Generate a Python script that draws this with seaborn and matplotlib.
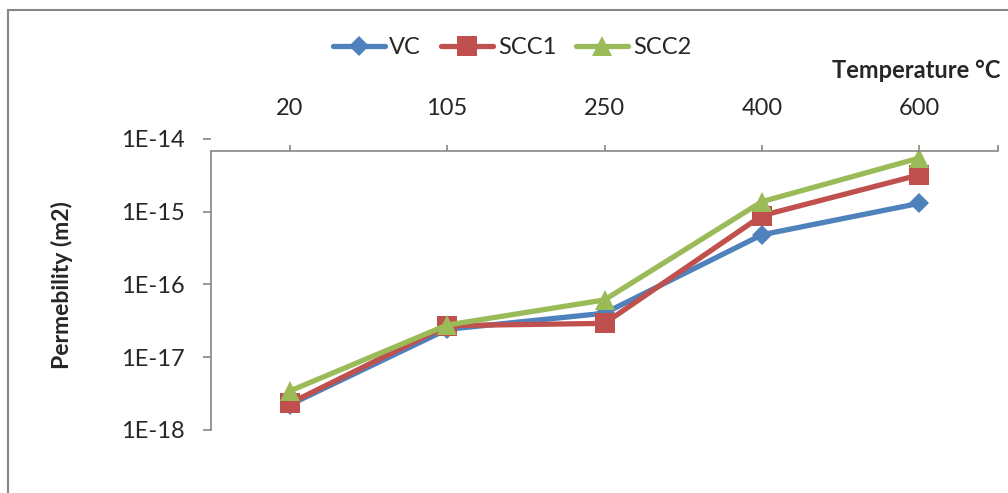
import numpy as np
import pandas as pd
import matplotlib
matplotlib.use("Agg")
import matplotlib.pyplot as plt
import seaborn as sb
from matplotlib.ticker import FixedLocator, FuncFormatter, NullLocator
from matplotlib.patches import Rectangle

temperatures = ['20', '105', '250', '400', '600']
vc = [2.2e-18, 2.4e-17, 4.0e-17, 4.8e-16, 1.3e-15]
scc1 = [2.3e-18, 2.7e-17, 2.9e-17, 8.8e-16, 3.2e-15]
scc2 = [3.4e-18, 2.75e-17, 6.1e-17, 1.37e-15, 5.45e-15]
series_names = ['VC', 'SCC1', 'SCC2']
y_ticks = [1e-18, 1e-17, 1e-16, 1e-15, 1e-14]


def main():
    sb.set_style('white')
    plt.rcParams['font.family'] = ['Lato', 'DejaVu Sans']

    colors = ['#4F81BD', '#C0504D', '#9BBB59']
    markers = ['D', 's', '^']
    msizes = [10.5, 14, 14]
    grey = '#868686'

    fig = plt.figure(figsize=(10.08, 4.93), dpi=100)
    # outer chart frame
    fig.patches.append(Rectangle((8 / 1008, -0.1), 1.2, 1 - 10 / 493 + 0.1,
                                 transform=fig.transFigure, fill=False,
                                 edgecolor=grey, linewidth=1.5))

    ax = fig.add_axes([211 / 1008, 1 - 429.7 / 493,
                       (998 - 211) / 1008, (429.7 - 138.9) / 493])

    for name, vals, c, m, ms in zip(series_names, [vc, scc1, scc2],
                                    colors, markers, msizes):
        df = pd.DataFrame({'Temperature': temperatures, 'Permeability': vals})
        sb.lineplot(data=df, x='Temperature', y='Permeability', ax=ax,
                    color=c, marker=m, markersize=ms, markeredgecolor=c,
                    markeredgewidth=0, linewidth=3.8, label=name, sort=False)

    ax.set_yscale('log')
    ax.set_ylim(1e-18, 1e-14)
    ax.set_xlim(-0.5, 4.5)
    ytop = 10 ** -14.166

    ax.yaxis.set_major_locator(FixedLocator(y_ticks))
    ax.yaxis.set_minor_locator(NullLocator())
    ax.yaxis.set_major_formatter(FuncFormatter(
        lambda v, p: '1E%d' % int(round(np.log10(v)))))

    ax.xaxis.tick_top()
    ax.xaxis.set_minor_locator(FixedLocator([4.5]))
    ax.spines['top'].set_position(('data', ytop))
    ax.spines['left'].set_bounds(1e-18, ytop)
    ax.spines['right'].set_visible(False)
    ax.spines['bottom'].set_visible(False)
    for s in ['top', 'left']:
        ax.spines[s].set_color(grey)
        ax.spines[s].set_linewidth(1.2)

    ax.tick_params(axis='x', which='both', direction='out', length=4.5,
                   width=1.2, color=grey, pad=19, labelsize=17, top=True,
                   bottom=False)
    ax.tick_params(axis='y', which='major', direction='out', length=6,
                   width=1.2, color=grey, pad=13, labelsize=17, left=True)
    ax.set_xlabel('')
    ax.set_ylabel('')

    fig.text(62 / 1008, 1 - 285 / 493, 'Permebility (m2)', rotation=90,
             ha='center', va='center', fontsize=16.5, fontweight='bold')
    fig.text(1001 / 1008, 1 - 70 / 493, 'Temperature °C', ha='right',
             va='center', fontsize=17, fontweight='bold')

    ax.get_legend().remove()
    handles, labels = ax.get_legend_handles_labels()
    fig.legend(handles, labels, loc='center', ncol=3, frameon=False,
               bbox_to_anchor=(512 / 1008, 1 - 48 / 493), fontsize=17,
               handlelength=2.2, handletextpad=0.2, columnspacing=0.85,
               borderpad=0)

    fig.savefig('out.png', dpi=100)


if __name__ == '__main__':
    main()
